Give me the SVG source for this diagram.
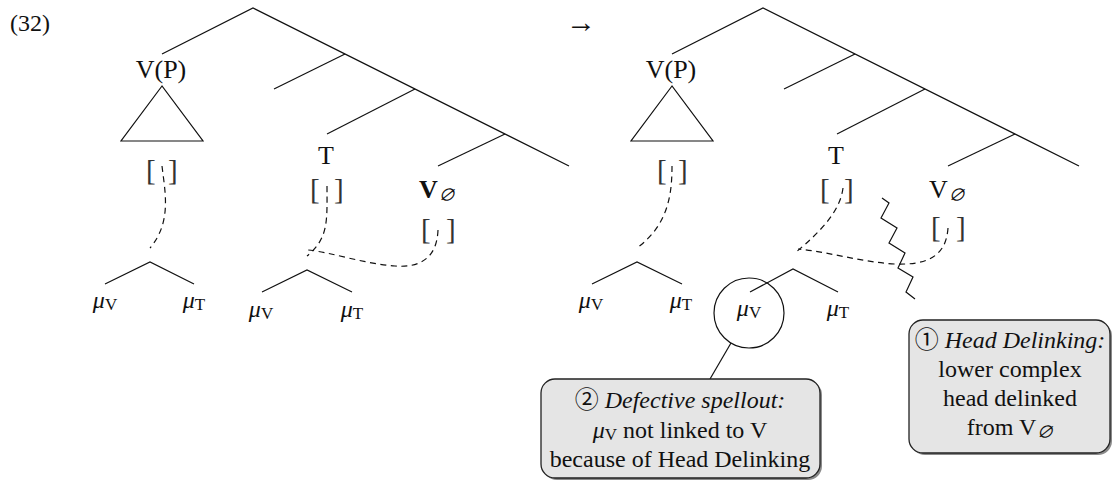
<svg xmlns="http://www.w3.org/2000/svg" width="1119" height="480" viewBox="0 0 1119 480">
  <style>
    text { font-family: "Liberation Serif", "DejaVu Serif", "Noto Sans CJK JP", serif; font-size: 24px; fill: #111; }
    .lbl { text-anchor: middle; }
    .cat { font-size: 26px; }
    .arrow { font-size: 30px; }
    .br { font-size: 29px; fill: #333; }
    .sub { font-size: 17px; }
    .it { font-style: italic; }
    .edge { fill: none; stroke: #111; stroke-width: 1.2; }
    .dash { fill: none; stroke: #111; stroke-width: 1.2; stroke-dasharray: 6 4.5; }
    .box { fill: #e5e5e5; stroke: #222; stroke-width: 1.3; }
    .shadow { fill: #8a8a8a; }
  </style>

  <!-- example number and arrow -->
  <text id="exnum" x="10" y="31">(32)</text>
  <text id="arrow" class="lbl arrow" x="581" y="32">→</text>

  <!-- tree branches and association lines -->
  <g id="connectors">
    <!-- left tree -->
    <path class="edge" d="M162,54 L253,8 L569,166"/>
    <path class="edge" d="M345,54 L274,89"/>
    <path class="edge" d="M415,89 L327,134"/>
    <path class="edge" d="M505,134 L438,166"/>
    <path class="edge" d="M162,86 L121,141 L203,141 Z"/>
    <path class="edge" d="M105,284 L150,262 L194,284"/>
    <path class="edge" d="M262,292 L307,270 L352,292"/>
    <path class="dash" d="M162,166 C165,192 172,222 150,248"/>
    <path class="dash" d="M327,186 C327,220 329,238 307,256"/>
    <path class="dash" d="M438,230 C437,258 420,268 395,266 C365,264 330,252 308,250"/>

    <!-- right tree -->
    <path class="edge" d="M672,54 L763,8 L1079,166"/>
    <path class="edge" d="M855,54 L784,89"/>
    <path class="edge" d="M925,89 L837,134"/>
    <path class="edge" d="M1015,134 L948,166"/>
    <path class="edge" d="M672,86 L631,141 L713,141 Z"/>
    <path class="edge" d="M592,284 L637,262 L682,284"/>
    <path class="edge" d="M750,292 L793,269 L838,292"/>
    <path class="dash" d="M672,166 C672,195 668,225 637,248"/>
    <path class="dash" d="M843,188 C840,212 820,232 795,253"/>
    <path class="dash" d="M948,228 C946,258 925,265 895,264 C860,262 830,252 798,249"/>

    <!-- delinking zigzag -->
    <polyline class="edge" points="882,198 889,203 881,218 897,228 889,243 905,253 898,268 913,277 906,292 915,299"/>
    <!-- callout pointer -->
    <path class="edge" d="M731,343 L710,379"/>
  </g>

  <!-- left tree nodes -->
  <g id="l-vp">
    <text class="lbl cat" x="161" y="78">V(P)</text>
    <text class="br" x="146" y="180">[</text>
    <text class="br" x="168" y="180">]</text>
  </g>
  <g id="l-t">
    <text class="lbl cat" x="326" y="164">T</text>
    <text class="br" x="310" y="199">[</text>
    <text class="br" x="334" y="199">]</text>
  </g>
  <g id="l-vnull">
    <text class="lbl cat" x="437" y="198"><tspan font-weight="bold">V</tspan><tspan class="sub it" dy="3">∅</tspan></text>
    <text class="br" x="421" y="239">[</text>
    <text class="br" x="446" y="239">]</text>
  </g>
  <g id="l-mu1">
    <text class="lbl" x="105" y="308"><tspan class="it">μ</tspan><tspan class="sub" dy="2">V</tspan></text>
    <text class="lbl" x="194" y="308"><tspan class="it">μ</tspan><tspan class="sub" dy="2">T</tspan></text>
  </g>
  <g id="l-mu2">
    <text class="lbl" x="261" y="317"><tspan class="it">μ</tspan><tspan class="sub" dy="2">V</tspan></text>
    <text class="lbl" x="352" y="317"><tspan class="it">μ</tspan><tspan class="sub" dy="2">T</tspan></text>
  </g>

  <!-- right tree nodes -->
  <g id="r-vp">
    <text class="lbl cat" x="671" y="78">V(P)</text>
    <text class="br" x="657" y="180">[</text>
    <text class="br" x="678" y="180">]</text>
  </g>
  <g id="r-t">
    <text class="lbl cat" x="836" y="164">T</text>
    <text class="br" x="820" y="199">[</text>
    <text class="br" x="844" y="199">]</text>
  </g>
  <g id="r-vnull">
    <text class="lbl cat" x="947" y="198"><tspan>V</tspan><tspan class="sub it" dy="3">∅</tspan></text>
    <text class="br" x="931" y="237">[</text>
    <text class="br" x="956" y="237">]</text>
  </g>
  <g id="r-mu1">
    <text class="lbl" x="591" y="308"><tspan class="it">μ</tspan><tspan class="sub" dy="2">V</tspan></text>
    <text class="lbl" x="681" y="308"><tspan class="it">μ</tspan><tspan class="sub" dy="2">T</tspan></text>
  </g>
  <g id="r-mu2">
    <circle class="edge" cx="749" cy="313" r="35"/>
    <text class="lbl" x="749" y="316"><tspan class="it">μ</tspan><tspan class="sub" dy="2">V</tspan></text>
    <text class="lbl" x="838" y="316"><tspan class="it">μ</tspan><tspan class="sub" dy="2">T</tspan></text>
  </g>

  <!-- callout: head delinking -->
  <g id="note-delink">
    <rect class="shadow" x="911" y="322" width="201" height="133" rx="14"/>
    <rect class="box" x="909" y="320" width="201" height="133" rx="14"/>
    <text class="lbl" x="1010" y="348">① <tspan class="it">Head Delinking:</tspan></text>
    <text class="lbl" x="1010" y="377">lower complex</text>
    <text class="lbl" x="1010" y="406">head delinked</text>
    <text class="lbl" x="1010" y="435">from V<tspan class="sub it" dy="3">∅</tspan></text>
  </g>

  <!-- callout: defective spellout -->
  <g id="note-spellout">
    <rect class="shadow" x="543" y="381" width="279" height="99" rx="14"/>
    <rect class="box" x="541" y="379" width="279" height="99" rx="14"/>
    <text class="lbl" x="680" y="408">② <tspan class="it">Defective spellout:</tspan></text>
    <text class="lbl" x="680" y="438"><tspan class="it">μ</tspan><tspan class="sub" dy="2">V</tspan><tspan dy="-2"> not linked to V</tspan></text>
    <text class="lbl" x="680" y="467">because of Head Delinking</text>
  </g>
</svg>
